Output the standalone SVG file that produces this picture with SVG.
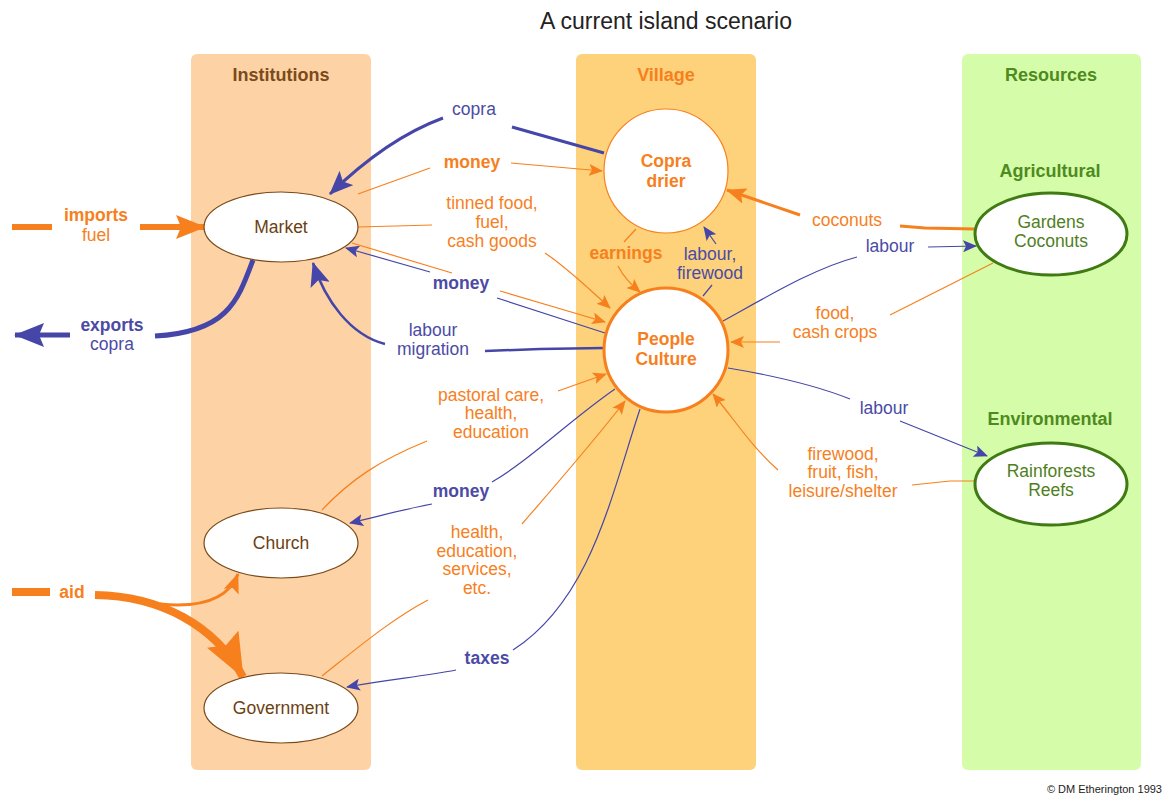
<svg xmlns="http://www.w3.org/2000/svg" width="1168" height="796" viewBox="0 0 1168 796">
<style>
text{font-family:"Liberation Sans",Arial,sans-serif;font-size:17.5px;text-anchor:middle}
.o{fill:#F7801E}.b{fill:#4B4BA5}.bd{font-weight:bold}
.hd{font-weight:bold;font-size:18px}
.inst{fill:#fff;stroke:#7B4A1A;stroke-width:1.2}
.instT{fill:#6B3F12}
.vil{fill:#fff;stroke:#F7801E}
.vilT{fill:#F7801E;font-weight:bold}
.res{fill:#fff;stroke:#3F7A12;stroke-width:3}
.resT{fill:#4F7F1E}
.lo{fill:none;stroke:#F7801E;stroke-width:1.2}
.lb{fill:none;stroke:#4646A8;stroke-width:1.2}
</style>
<defs>
<marker id="ao" markerUnits="userSpaceOnUse" markerWidth="14" markerHeight="12" refX="13" refY="6" orient="auto"><path d="M0,0 L14,6 L0,12 L3,6 Z" fill="#F7801E"/></marker>
<marker id="ab" markerUnits="userSpaceOnUse" markerWidth="14" markerHeight="12" refX="13" refY="6" orient="auto"><path d="M0,0 L14,6 L0,12 L3,6 Z" fill="#4646A8"/></marker>
<marker id="aoM" markerUnits="userSpaceOnUse" markerWidth="20" markerHeight="16" refX="19" refY="8" orient="auto"><path d="M0,0 L20,8 L0,16 L4,8 Z" fill="#F7801E"/></marker>
<marker id="abM" markerUnits="userSpaceOnUse" markerWidth="24" markerHeight="20" refX="23" refY="10" orient="auto"><path d="M0,0 L24,10 L0,20 L5,10 Z" fill="#4646A8"/></marker>
<marker id="aoL" markerUnits="userSpaceOnUse" markerWidth="30" markerHeight="24" refX="29" refY="12" orient="auto"><path d="M0,0 L30,12 L0,24 L5,12 Z" fill="#F7801E"/></marker>
<marker id="abL" markerUnits="userSpaceOnUse" markerWidth="30" markerHeight="24" refX="29" refY="12" orient="auto"><path d="M0,0 L30,12 L0,24 L5,12 Z" fill="#4646A8"/></marker>
<marker id="aoH" markerUnits="userSpaceOnUse" markerWidth="44" markerHeight="36" refX="43" refY="18" orient="auto"><path d="M0,0 L44,18 L0,36 L7,18 Z" fill="#F7801E"/></marker>
</defs>
<rect width="1168" height="796" fill="#fff"/>
<text x="666" y="29" style="font-size:23px;fill:#222">A current island scenario</text>

<g id="col-institutions">
<rect x="191" y="54" width="180" height="716" rx="6" fill="#FDD3A5"/>
<text x="281" y="81" class="hd" fill="#7B4A1A">Institutions</text>
</g>
<g id="col-village">
<rect x="576" y="54" width="180" height="716" rx="6" fill="#FDD27B"/>
<text x="666" y="81" class="hd" fill="#F7801E">Village</text>
</g>
<g id="col-resources">
<rect x="962" y="54" width="179" height="716" rx="6" fill="#D5FCA9"/>
<text x="1051" y="81" class="hd" fill="#4F8A1E">Resources</text>
<text x="1050" y="177" class="hd" fill="#4F8A1E">Agricultural</text>
<text x="1050" y="425" class="hd" fill="#4F8A1E">Environmental</text>
</g>

<g id="connectors">
<path d="M604,153 L512,127" fill="none" stroke="#4646A8" stroke-width="3"/>
<path d="M443,118 C405,132 365,160 330,194" fill="none" stroke="#4646A8" stroke-width="3" marker-end="url(#abM)"/>
<path d="M511,163 L602,171" class="lo" marker-end="url(#ao)"/>
<path d="M430,168 L358,194" class="lo"/>
<path d="M358,227 L432,225" class="lo"/>
<path d="M545,253 C570,270 590,290 610,308" class="lo" marker-end="url(#ao)"/>
<path d="M352,243 L452,273" class="lo"/>
<path d="M500,291 L605,322" class="lo" marker-end="url(#ao)"/>
<path d="M605,333 L497,298" class="lb"/>
<path d="M430,272 L346,248" class="lb" marker-end="url(#ab)"/>
<path d="M604,348 L540,349 L485,351" fill="none" stroke="#4646A8" stroke-width="2.5"/>
<path d="M385,344 C350,335 325,300 313,263" fill="none" stroke="#4646A8" stroke-width="2.5" marker-end="url(#abM)"/>
<path d="M12,227 L52,227" fill="none" stroke="#F7801E" stroke-width="6"/>
<path d="M140,227 L205,227" fill="none" stroke="#F7801E" stroke-width="6" marker-end="url(#aoL)"/>
<path d="M253,260 C238,300 228,332 155,336" fill="none" stroke="#4646A8" stroke-width="5"/>
<path d="M70,335 L15,335" fill="none" stroke="#4646A8" stroke-width="5" marker-end="url(#abL)"/>
<path d="M636,229 L624,242" class="lo"/>
<path d="M618,266 C624,278 632,285 640,292" class="lo" marker-end="url(#ao)"/>
<path d="M703,296 L712,285" class="lb"/>
<path d="M716,244 L704,227" class="lb" marker-end="url(#ab)"/>
<path d="M976,229 L925,228 L900,226" fill="none" stroke="#F7801E" stroke-width="3"/>
<path d="M800,215 L727,190" fill="none" stroke="#F7801E" stroke-width="3" marker-end="url(#aoM)"/>
<path d="M723,321 C770,295 815,268 857,257" class="lb"/>
<path d="M928,247 L976,246" class="lb" marker-end="url(#ab)"/>
<path d="M993,263 L890,315" class="lo"/>
<path d="M780,342 L731,342" class="lo" marker-end="url(#ao)"/>
<path d="M728,368 C770,375 815,385 850,399" class="lb"/>
<path d="M900,421 L987,456" class="lb" marker-end="url(#ab)"/>
<path d="M975,481 L950,481 L912,485" class="lo"/>
<path d="M778,470 C750,445 735,420 713,394" class="lo" marker-end="url(#ao)"/>
<path d="M558,391 L606,374" class="lo" marker-end="url(#ao)"/>
<path d="M427,441 C380,460 350,480 322,510" class="lo"/>
<path d="M615,389 C570,420 530,460 492,482" class="lb"/>
<path d="M432,504 C400,510 380,516 350,523" class="lb" marker-end="url(#ab)"/>
<path d="M522,524 C560,480 595,440 625,401" class="lo" marker-end="url(#ao)"/>
<path d="M428,600 C390,620 355,650 322,676" class="lo"/>
<path d="M640,409 C610,500 590,600 513,650" class="lb"/>
<path d="M456,670 C420,677 390,679 347,687" class="lb" marker-end="url(#ab)"/>
<path d="M12,592 L50,592" fill="none" stroke="#F7801E" stroke-width="8"/>
<path d="M95,595 C160,596 215,625 243,677" fill="none" stroke="#F7801E" stroke-width="8" marker-end="url(#aoH)"/>
<path d="M160,604 C200,608 228,600 238,574" fill="none" stroke="#F7801E" stroke-width="3" marker-end="url(#aoM)"/>
</g>

<g id="labels">
<text x="474" y="115" class="b">copra</text>
<text x="472" y="168" class="o bd">money</text>
<text x="492" y="209" class="o">tinned food,</text>
<text x="492" y="228" class="o">fuel,</text>
<text x="492" y="247" class="o">cash goods</text>
<text x="626" y="259" class="o bd">earnings</text>
<text x="710" y="260" class="b">labour,</text>
<text x="710" y="279" class="b">firewood</text>
<text x="461" y="289" class="b bd">money</text>
<text x="433" y="336" class="b">labour</text>
<text x="433" y="355" class="b">migration</text>
<text x="96" y="221" class="o bd">imports</text>
<text x="96" y="241" class="o">fuel</text>
<text x="112" y="331" class="b bd">exports</text>
<text x="112" y="350" class="b">copra</text>
<text x="847" y="226" class="o">coconuts</text>
<text x="890" y="252" class="b">labour</text>
<text x="835" y="319" class="o">food,</text>
<text x="835" y="338" class="o">cash crops</text>
<text x="884" y="414" class="b">labour</text>
<text x="843" y="460" class="o">firewood,</text>
<text x="843" y="478" class="o">fruit, fish,</text>
<text x="843" y="497" class="o">leisure/shelter</text>
<text x="491" y="401" class="o">pastoral care,</text>
<text x="491" y="419" class="o">health,</text>
<text x="491" y="438" class="o">education</text>
<text x="461" y="497" class="b bd">money</text>
<text x="477" y="538" class="o">health,</text>
<text x="477" y="557" class="o">education,</text>
<text x="477" y="575" class="o">services,</text>
<text x="477" y="594" class="o">etc.</text>
<text x="487" y="664" class="b bd">taxes</text>
<text x="72" y="598" class="o bd">aid</text>
</g>

<g id="node-market">
<ellipse cx="281" cy="227" rx="77" ry="35" class="inst"/>
<text x="281" y="233" class="instT">Market</text>
</g>
<g id="node-church">
<ellipse cx="281" cy="543" rx="77" ry="35" class="inst"/>
<text x="281" y="549" class="instT">Church</text>
</g>
<g id="node-government">
<ellipse cx="281" cy="708" rx="77" ry="35" class="inst"/>
<text x="281" y="714" class="instT">Government</text>
</g>
<g id="node-copra-drier">
<circle cx="666" cy="171" r="62" class="vil" stroke-width="1.2"/>
<text x="666" y="167" class="vilT">Copra</text>
<text x="666" y="187" class="vilT">drier</text>
</g>
<g id="node-people-culture">
<circle cx="666" cy="350" r="62" class="vil" stroke-width="3"/>
<text x="666" y="345" class="vilT">People</text>
<text x="666" y="365" class="vilT">Culture</text>
</g>
<g id="node-gardens">
<ellipse cx="1051" cy="234" rx="76" ry="41" class="res"/>
<text x="1051" y="228" class="resT">Gardens</text>
<text x="1051" y="247" class="resT">Coconuts</text>
</g>
<g id="node-rainforests">
<ellipse cx="1051" cy="484" rx="76" ry="41" class="res"/>
<text x="1051" y="477" class="resT">Rainforests</text>
<text x="1051" y="496" class="resT">Reefs</text>
</g>
<text x="1162" y="793" style="font-size:11px;text-anchor:end;fill:#222">© DM Etherington 1993</text>
</svg>
